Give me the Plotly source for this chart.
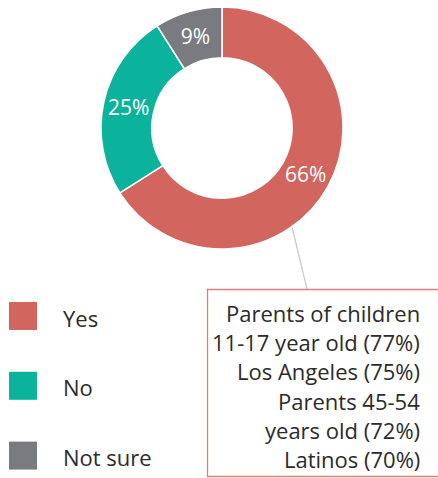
import plotly.graph_objects as go

W, H = 438, 478

labels = ["Yes", "No", "Not sure"]
values = [66, 25, 9]
colors = ["#D3655F", "#0BB39C", "#7A7B80"]

callout_lines = [
    "Parents of children",
    "11-17 year old (77%)",
    "Los Angeles (75%)",
    "Parents 45-54",
    "years old (72%)",
    "Latinos (70%)",
]

FONT = "Open Sans"
TEXT_COLOR = "#2b2b2b"
FS = 22
PIE_FS = 21


def px(x):
    return x / W


def py(y):
    return 1 - y / H


fig = go.Figure()
fig.add_trace(go.Pie(
    labels=labels,
    values=values,
    hole=0.58,
    sort=False,
    direction="clockwise",
    rotation=0,
    marker=dict(colors=colors, line=dict(color="white", width=1.5)),
    texttemplate="%{value}%",
    textposition="inside",
    insidetextorientation="horizontal",
    textfont=dict(family=FONT, size=PIE_FS, color="white"),
    showlegend=False,
    domain=dict(x=[px(101), px(343)], y=[py(249), py(7)]),
))

shapes = []
annotations = []

# connector line
shapes.append(dict(type="line", xref="paper", yref="paper",
                   x0=px(292), y0=py(227), x1=px(307), y1=py(289),
                   line=dict(color="#c8c8c8", width=1.2), layer="below"))
# callout box
shapes.append(dict(type="rect", xref="paper", yref="paper",
                   x0=px(207.5), y0=py(289.5), x1=px(445), y1=py(476.5),
                   line=dict(color="#D9807B", width=1.3), fillcolor="rgba(0,0,0,0)"))

line_y0 = 313
line_step = 29.2
for i, t in enumerate(callout_lines):
    annotations.append(dict(text=t, xref="paper", yref="paper",
                            x=px(422), y=py(line_y0 + i * line_step),
                            xanchor="right", yanchor="middle", showarrow=False,
                            font=dict(family=FONT, size=FS, color=TEXT_COLOR)))

# legend
leg_y0 = 316
leg_step = 69.8
for i, (lab, col) in enumerate(zip(labels, colors)):
    cy = leg_y0 + i * leg_step
    shapes.append(dict(type="rect", xref="paper", yref="paper",
                       x0=px(9), x1=px(37), y0=py(cy - 14), y1=py(cy + 14),
                       fillcolor=col, line=dict(width=0)))
    annotations.append(dict(text=lab, xref="paper", yref="paper",
                            x=px(61), y=py(cy + 1.5), xanchor="left", yanchor="middle",
                            showarrow=False,
                            font=dict(family=FONT, size=FS, color=TEXT_COLOR)))

fig.update_layout(
    width=W, height=H,
    margin=dict(l=0, r=0, t=0, b=0),
    paper_bgcolor="white", plot_bgcolor="white",
    shapes=shapes, annotations=annotations,
)

fig.write_html("out.html", config=dict(displayModeBar=False),
               post_script="document.body.style.margin='0';document.body.style.overflow='hidden';")
